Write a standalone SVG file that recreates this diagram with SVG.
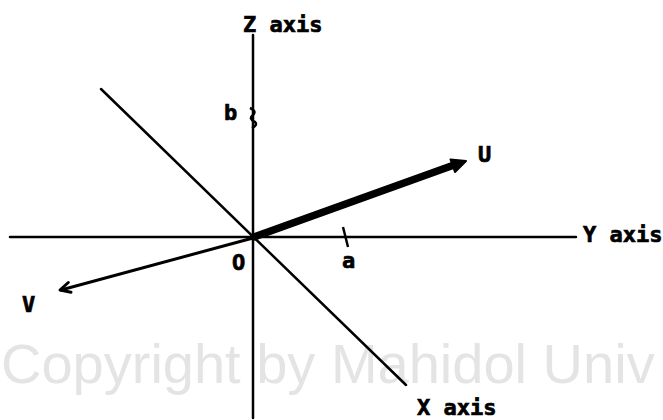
<svg xmlns="http://www.w3.org/2000/svg" width="663" height="420" viewBox="0 0 663 420">
<style>
.lbl{font-family:"DejaVu Sans Mono","Liberation Mono",monospace;font-weight:bold;font-size:22px;fill:#000;stroke:#000;stroke-width:0.7}
.wm{font-family:"Liberation Sans",Arial,sans-serif;font-size:56px;fill:#e4e4e4}
.ax{stroke:#000;stroke-width:2.5;fill:none;stroke-linecap:round}
</style>
<rect width="663" height="420" fill="#fff"/>
<text class="wm" x="1" y="383">Copyright by Mahidol Univ</text>
<g id="connectors">
<line id="z-axis" class="ax" x1="253" y1="35" x2="253" y2="418"/>
<line id="y-axis" class="ax" x1="10" y1="237" x2="576" y2="237"/>
<line id="x-axis" class="ax" x1="101" y1="89" x2="406" y2="385"/>
<g id="vec-u">
<line x1="254" y1="237" x2="454" y2="165" stroke="#000" stroke-width="7.5" stroke-linecap="round"/>
<polygon points="466,161 455,172 450.5,159.5" fill="#000" stroke="#000" stroke-width="2" stroke-linejoin="round"/>
</g>
<g id="vec-v">
<line x1="253" y1="238" x2="61" y2="290" stroke="#000" stroke-width="3" stroke-linecap="round"/>
<polyline points="68.3,282.5 60,290 71,292.2" fill="none" stroke="#000" stroke-width="3" stroke-linecap="round" stroke-linejoin="round"/>
</g>
<path id="tick-b" d="M250,108 Q257,111 253,115 Q248,119 255,122 Q258,125 252,128" fill="none" stroke="#000" stroke-width="2.5"/>
<path id="tick-a" d="M343,227 L348,247" fill="none" stroke="#000" stroke-width="2.5"/>
</g>
<g id="label-z"><text class="lbl" x="243" y="32">Z axis</text></g>
<g id="label-y"><text class="lbl" x="583" y="242">Y axis</text></g>
<g id="label-x"><text class="lbl" x="417" y="415">X axis</text></g>
<g id="label-b"><text class="lbl" x="224" y="120">b</text></g>
<g id="label-a"><text class="lbl" x="342" y="268">a</text></g>
<g id="label-o"><text class="lbl" x="232" y="270">O</text></g>
<g id="label-u"><text class="lbl" x="478" y="162">U</text></g>
<g id="label-v"><text class="lbl" x="22" y="312">V</text></g>
</svg>
